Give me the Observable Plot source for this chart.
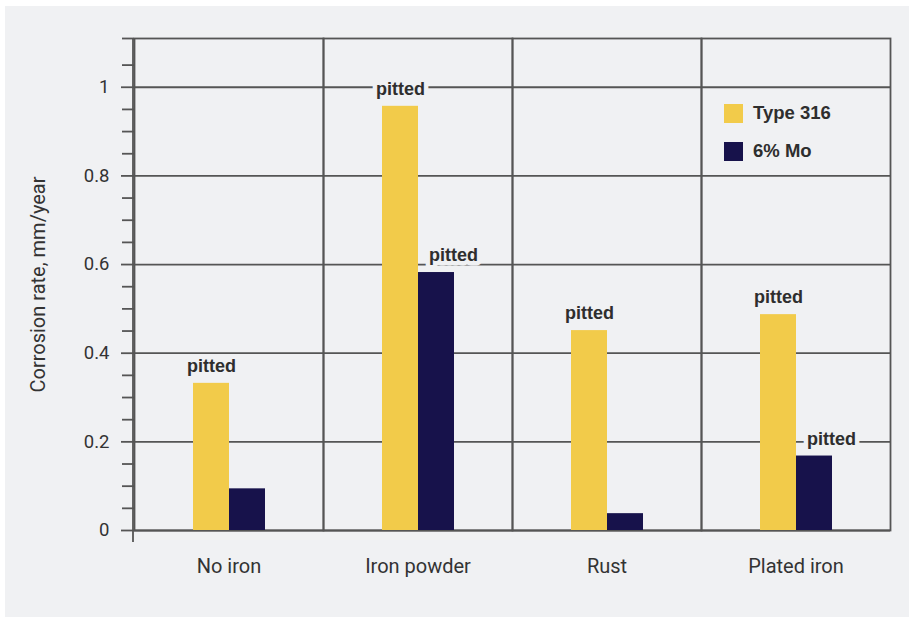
<!DOCTYPE html>
<html>
<head>
<meta charset="utf-8">
<script src="https://cdn.jsdelivr.net/npm/d3@7"></script>
<script src="https://cdn.jsdelivr.net/npm/@observablehq/plot@0.6"></script>
<style>
  html, body { margin: 0; padding: 0; background: #ffffff; }
  #wrap { position: relative; width: 909px; height: 617px; overflow: hidden; }
  #panel { position: absolute; left: 5px; top: 6px; right: 0; bottom: 0; background: #f0f1f3; }
  #chart { position: absolute; left: 0; top: 0; }
  .leg { position: absolute; display: flex; align-items: center; font-family: "Liberation Sans", Arial, sans-serif; font-weight: bold; font-size: 18.5px; color: #2e2e2e; }
  .sw { width: 19px; height: 19px; margin-right: 10px; }
</style>
</head>
<body>
<div id="wrap">
  <div id="panel"></div>
  <div id="chart"></div>
  <div id="legend"></div>
</div>
<script>
const categories = ["No iron", "Iron powder", "Rust", "Plated iron"];
const seriesNames = ["Type 316", "6% Mo"];
const type316Values = [0.332, 0.957, 0.451, 0.487];
const mo6Values = [0.094, 0.582, 0.038, 0.168];
const type316Pitted = [true, true, true, true];
const mo6Pitted = [false, true, false, true];
const pitLabel = "pitted";
const seriesColors = ["#f2cb4a", "#17124b"];
const majorTicks = [0, 0.2, 0.4, 0.6, 0.8, 1];
const minorTicks = [0.05, 0.1, 0.15, 0.25, 0.3, 0.35, 0.45, 0.5, 0.55, 0.65, 0.7, 0.75, 0.85, 0.9, 0.95, 1.05, 1.11];
const yMax = 1.11;
const yLabel = "Corrosion rate, mm/year";

const rows = [];
categories.forEach((c, i) => {
  rows.push({cat: c, series: seriesNames[0], value: type316Values[i], pitted: type316Pitted[i]});
  rows.push({cat: c, series: seriesNames[1], value: mo6Values[i], pitted: mo6Pitted[i]});
});

const bg = "#f0f1f3";
const lineColor = "#555";
const condensed = "Roboto, 'Liberation Sans', sans-serif";
const labelFont = "'Liberation Sans', Arial, sans-serif";

const plot = Plot.plot({
  width: 909,
  height: 617,
  marginLeft: 133,
  marginRight: 18,
  marginTop: 38,
  marginBottom: 87,
  style: {background: "transparent", color: "#333", fontFamily: condensed},
  fx: {domain: categories, paddingInner: 0, paddingOuter: 0, label: null},
  x: {domain: seriesNames, paddingInner: 0, paddingOuter: 1.6, axis: null},
  y: {domain: [0, yMax], axis: null},
  color: {domain: seriesNames, range: seriesColors},
  marks: [
    Plot.ruleY(majorTicks, {stroke: lineColor, strokeWidth: 1.8}),
    Plot.frame({stroke: lineColor, strokeWidth: 1.8}),
    Plot.barY(rows, {fx: "cat", x: "series", y: "value", fill: "series"}),
    Plot.text(rows.filter(d => d.pitted && d.series === seriesNames[0]), {
      fx: "cat", x: "series", y: "value", text: () => pitLabel, dy: -17,
      fontFamily: labelFont, fontWeight: "bold", fontSize: 18,
      fill: "#2e2e2e", stroke: bg, strokeWidth: 9, paintOrder: "stroke"
    }),
    Plot.text(rows.filter(d => d.pitted && d.series === seriesNames[1]), {
      fx: "cat", x: "series", y: "value", text: () => pitLabel, dy: -17, dx: 17,
      fontFamily: labelFont, fontWeight: "bold", fontSize: 18,
      fill: "#2e2e2e", stroke: bg, strokeWidth: 9, paintOrder: "stroke"
    }),
    Plot.axisY({ticks: majorTicks, tickSize: 13, tickPadding: 12, tickFormat: d => String(d),
      fontSize: 18.5, stroke: lineColor, strokeWidth: 1.8, label: null}),
    Plot.axisY({ticks: minorTicks, tickSize: 12, tickFormat: null, text: null,
      stroke: lineColor, strokeWidth: 1.8, label: null}),
    Plot.axisY({ticks: [], label: yLabel, labelAnchor: "center", labelOffset: 104, labelArrow: "none", fontSize: 20}),
    Plot.axisFx({anchor: "bottom", tickSize: 0, tickPadding: 28, fontSize: 20, label: null})
  ]
});

document.getElementById("chart").appendChild(plot);

// y axis line extends slightly below the baseline
const y = plot.scale("y");
d3.select(plot).append("line")
  .attr("x1", 133).attr("x2", 133)
  .attr("y1", y.apply(yMax)).attr("y2", y.apply(0) + 12)
  .attr("stroke", lineColor).attr("stroke-width", 1.8);

// legend inside the plotting area
const legend = document.getElementById("legend");
seriesNames.forEach((s, i) => {
  const el = document.createElement("div");
  el.className = "leg";
  el.style.left = "724px";
  el.style.top = (102 + i * 38) + "px";
  el.innerHTML = `<div class="sw" style="background:${seriesColors[i]}"></div><span>${s}</span>`;
  legend.appendChild(el);
});
</script>
</body>
</html>
